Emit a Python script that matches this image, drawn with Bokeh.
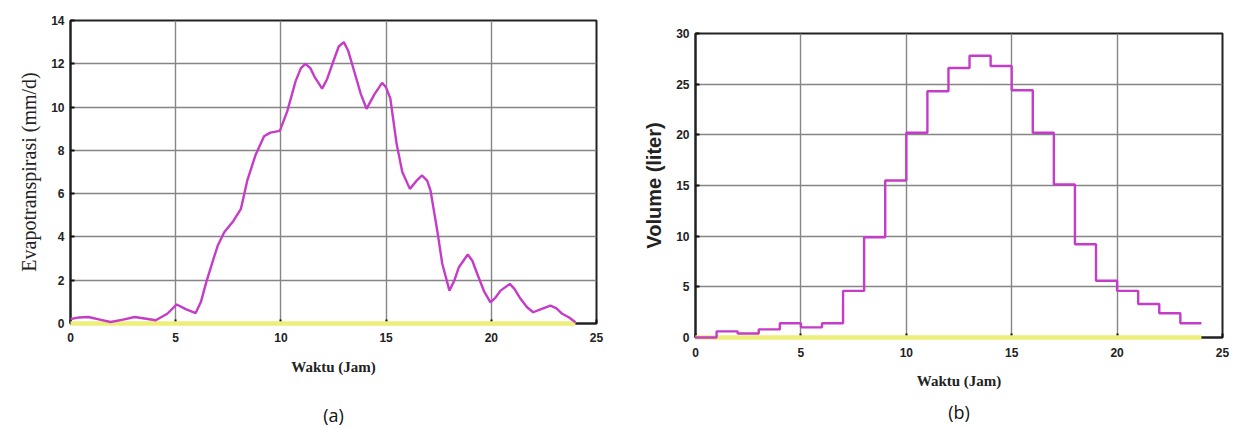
from bokeh.plotting import figure
from bokeh.layouts import row, column
from bokeh.models import Title, FixedTicker, Range1d
from bokeh.embed import file_html
from bokeh.resources import INLINE

# ---- data (a): evapotranspiration ----
hours_a = [0.0, 0.4, 0.85, 1.4, 1.9, 2.5, 3.05, 3.6, 4.05, 4.6, 5.05, 5.5, 5.95,
           6.2, 6.45, 6.8, 7.0, 7.3, 7.75, 8.1, 8.4, 8.8, 9.2, 9.5, 9.95, 10.3,
           10.7, 10.95, 11.17, 11.4, 11.6, 11.96, 12.2, 12.45, 12.75, 12.99,
           13.2, 13.47, 13.8, 14.07, 14.45, 14.81, 15.0, 15.2, 15.5, 15.77,
           16.13, 16.45, 16.71, 16.95, 17.11, 17.43, 17.67, 18.01, 18.25,
           18.46, 18.88, 19.1, 19.33, 19.65, 19.96, 20.2, 20.44, 20.88, 21.1,
           21.39, 21.7, 21.99, 22.4, 22.81, 23.1, 23.37, 23.7, 24.0]
evapo = [0.20, 0.28, 0.30, 0.18, 0.07, 0.18, 0.30, 0.22, 0.15, 0.45, 0.88, 0.65, 0.48,
         1.0, 1.9, 3.0, 3.6, 4.2, 4.75, 5.3, 6.6, 7.8, 8.65, 8.82, 8.9, 9.8,
         11.2, 11.8, 12.0, 11.8, 11.4, 10.85, 11.3, 12.0, 12.8, 13.0,
         12.6, 11.7, 10.6, 9.92, 10.6, 11.12, 10.9, 10.4, 8.3, 7.0,
         6.22, 6.6, 6.84, 6.6, 6.15, 4.3, 2.76, 1.52, 2.0,
         2.6, 3.19, 2.9, 2.3, 1.5, 0.98, 1.2, 1.52, 1.83, 1.6,
         1.14, 0.75, 0.52, 0.68, 0.83, 0.7, 0.45, 0.28, 0.06]

# ---- data (b): hourly volume (step) ----
hours_b = list(range(25))
volume = [0.0, 0.6, 0.4, 0.8, 1.4, 1.0, 1.4, 4.6, 9.9, 15.5, 20.2, 24.3,
          26.6, 27.8, 26.8, 24.4, 20.2, 15.1, 9.2, 5.6, 4.6, 3.3, 2.4, 1.4]

# zero reference line (yellow)
zero_x = [0, 24]
zero_y = [0, 0]

x_ticks = [0, 5, 10, 15, 20, 25]
y_ticks_a = [0, 2, 4, 6, 8, 10, 12, 14]
y_ticks_b = [0, 5, 10, 15, 20, 25, 30]

MAGENTA = "#c43cc8"
YELLOW = "#eeee7a"
GRID = "#858585"


def style(p, xt, yt):
    xa = p.below[0]
    ya = p.left[0]
    xa.ticker = FixedTicker(ticks=xt)
    ya.ticker = FixedTicker(ticks=yt)
    for ax in (xa, ya):
        ax.major_tick_in = 4
        ax.major_tick_out = 0
        ax.minor_tick_line_color = None
        ax.major_tick_line_color = "#111111"
        ax.major_tick_line_width = 2
        ax.axis_line_color = "#222222"
        ax.axis_line_width = 2
        ax.major_label_text_font = "Liberation Sans"
        ax.major_label_text_font_style = "bold"
        ax.major_label_text_font_size = "12px"
        ax.major_label_text_color = "#222222"
        ax.axis_label_text_color = "#222222"
    p.xgrid.grid_line_color = GRID
    p.ygrid.grid_line_color = GRID
    p.xgrid.grid_line_width = 1.4
    p.ygrid.grid_line_width = 1.4
    p.outline_line_color = "#222222"
    p.outline_line_width = 2
    p.outline_line_alpha = 1.0
    return xa, ya


# ---------------- figure (a) ----------------
pa = figure(frame_width=526, frame_height=303, x_range=Range1d(0, 25), y_range=Range1d(0, 14),
            min_border_left=70, min_border_right=44, min_border_top=20, min_border_bottom=106,
            output_backend="svg", toolbar_location=None)
xa, ya_ax = style(pa, x_ticks, y_ticks_a)
xa.major_label_standoff = 9
ya_ax.major_label_standoff = 6
xa.axis_label = "Waktu (Jam)"
ya_ax.axis_label = "Evapotranspirasi (mm/d)"
xa.axis_label_text_font = "Liberation Serif"
xa.axis_label_text_font_style = "bold"
xa.axis_label_text_font_size = "15px"
xa.axis_label_standoff = 14
ya_ax.axis_label_text_font = "Liberation Serif"
ya_ax.axis_label_text_font_style = "normal"
ya_ax.axis_label_text_font_size = "20px"
ya_ax.axis_label_standoff = 8
yl = pa.line(zero_x, zero_y, line_color=YELLOW, line_width=4.5)
yl.level = "overlay"
ml = pa.line(hours_a, evapo, line_color=MAGENTA, line_width=2.4)
ml.level = "overlay"
pa.add_layout(Title(text="(a)", align="center", text_font="Open Sans", text_font_size="18px",
                    text_font_style="normal", text_color="#111111", standoff=47), "below")

# ---------------- figure (b) ----------------
pb = figure(frame_width=527, frame_height=304, x_range=Range1d(0, 25), y_range=Range1d(0, 30),
            min_border_left=55, min_border_right=10, min_border_top=33, min_border_bottom=88,
            output_backend="svg", toolbar_location=None)
xb, yb_ax = style(pb, x_ticks, y_ticks_b)
xb.major_label_standoff = 10
yb_ax.major_label_standoff = 6
xb.axis_label = "Waktu (Jam)"
yb_ax.axis_label = "Volume (liter)"
xb.axis_label_text_font = "Liberation Serif"
xb.axis_label_text_font_style = "bold"
xb.axis_label_text_font_size = "15px"
xb.axis_label_standoff = 13
yb_ax.axis_label_text_font = "Liberation Sans"
yb_ax.axis_label_text_font_style = "bold"
yb_ax.axis_label_text_font_size = "20px"
yb_ax.axis_label_standoff = 8
yl2 = pb.line(zero_x, zero_y, line_color=YELLOW, line_width=4.5)
yl2.level = "overlay"
step_x = hours_b
step_y = volume + [volume[-1]]
mb = pb.step(step_x, step_y, mode="after", line_color=MAGENTA, line_width=2.4)
mb.level = "overlay"
pb.add_layout(Title(text="(b)", align="center", text_font="Open Sans", text_font_size="18px",
                    text_font_style="normal", text_color="#111111", standoff=13), "below")

layout = row(column(pa), column(pb))
open("out.html", "w").write(file_html(layout, INLINE))
